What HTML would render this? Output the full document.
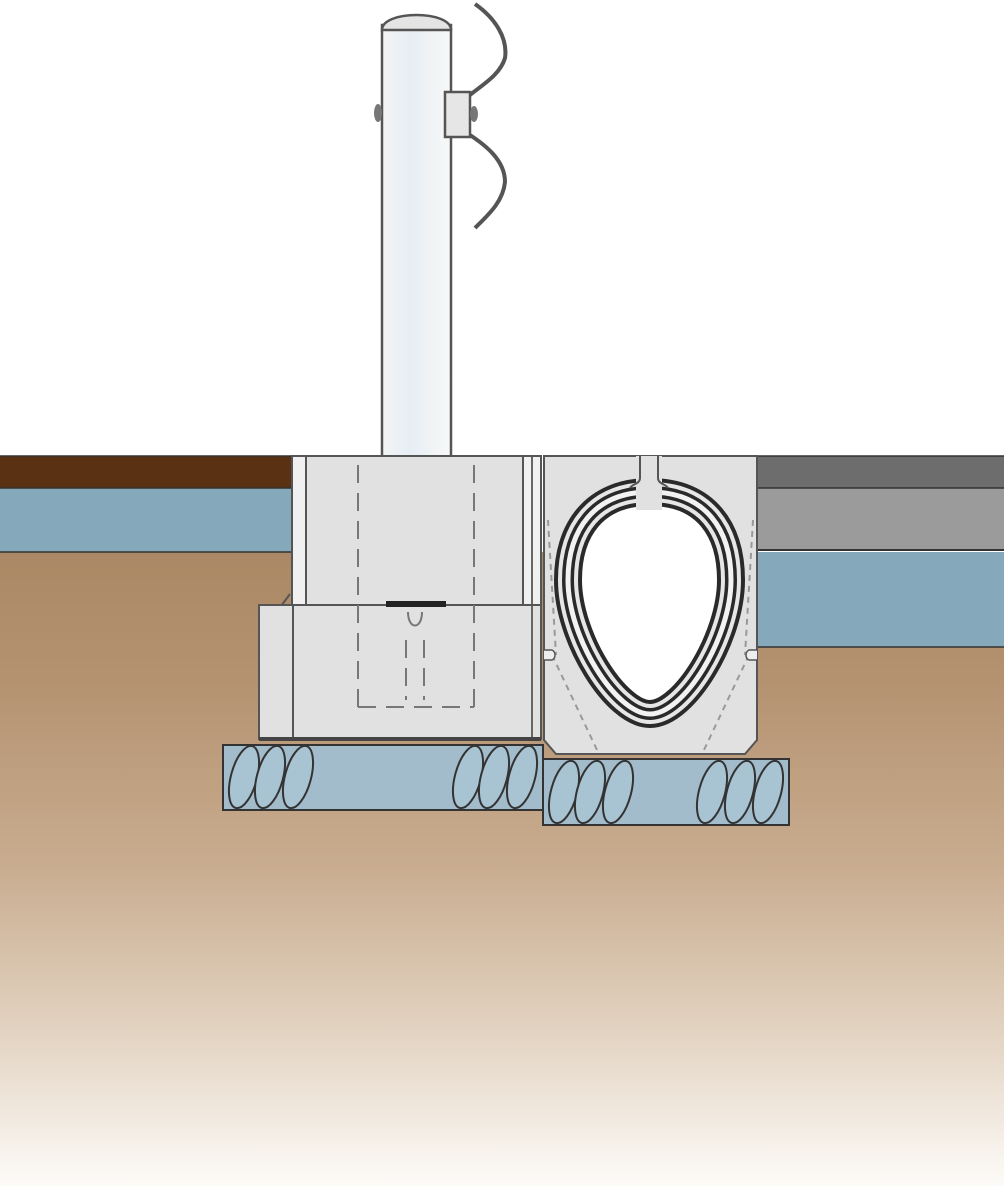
<!DOCTYPE html>
<html><head><meta charset="utf-8"><style>html,body{margin:0;padding:0;background:#fff}svg{display:block}</style></head>
<body>
<svg width="1004" height="1186" viewBox="0 0 1004 1186" xmlns="http://www.w3.org/2000/svg">
<defs>
<linearGradient id="soil" x1="0" y1="0" x2="0" y2="1">
<stop offset="0" stop-color="#ab8865"/>
<stop offset="0.2" stop-color="#b49270"/>
<stop offset="0.5" stop-color="#c9ad90"/>
<stop offset="0.75" stop-color="#e2d2c0"/>
<stop offset="1" stop-color="#fdfbf8"/>
</linearGradient>
<linearGradient id="post" x1="0" y1="0" x2="1" y2="0">
<stop offset="0" stop-color="#f4f4f4"/>
<stop offset="0.4" stop-color="#e6eef4"/>
<stop offset="1" stop-color="#f8f8f8"/>
</linearGradient>
<path id="eg" d="M650,492 C706,492 731,530 731,580 C731,638 684,714 650,714 C616,714 568,638 568,580 C568,530 594,492 650,492 Z"/>
</defs>
<rect width="1004" height="1186" fill="#fff"/>
<rect x="0" y="552" width="1004" height="634" fill="url(#soil)"/>
<rect x="0" y="456" width="292" height="32" fill="#5a3112"/>
<rect x="0" y="488" width="292" height="64" fill="#86a8bb"/>
<line x1="0" y1="488" x2="292" y2="488" stroke="#333" stroke-width="1.5"/>
<line x1="0" y1="552" x2="292" y2="552" stroke="#333" stroke-width="1.5"/>
<line x1="0" y1="456" x2="292" y2="456" stroke="#333" stroke-width="1.5"/>
<rect x="757" y="456" width="247" height="32" fill="#6d6d6d"/>
<rect x="757" y="488" width="247" height="61" fill="#9b9b9b"/>
<rect x="757" y="552" width="247" height="95" fill="#86a8bb"/>
<line x1="757" y1="456" x2="1004" y2="456" stroke="#333" stroke-width="1.5"/>
<line x1="757" y1="488" x2="1004" y2="488" stroke="#333" stroke-width="1.5"/>
<line x1="757" y1="550" x2="1004" y2="550" stroke="#333" stroke-width="2"/>
<line x1="757" y1="647" x2="1004" y2="647" stroke="#333" stroke-width="1.5"/>

<rect x="382" y="25" width="69" height="432" fill="url(#post)" stroke="#555" stroke-width="2.5"/>
<path d="M382,30 C382,10 451,10 451,30 Z" fill="#e4e4e4" stroke="#555" stroke-width="2.5"/>
<ellipse cx="378" cy="113" rx="4" ry="9" fill="#777"/>
<path d="M475,4 C495,18 508,38 505,58 C500,75 482,85 470,95" fill="none" stroke="#555" stroke-width="4"/>
<path d="M470,135 C485,145 505,160 505,182 C503,202 488,215 475,228" fill="none" stroke="#555" stroke-width="4"/>
<rect x="445" y="92" width="25" height="45" fill="#e6e6e6" stroke="#555" stroke-width="2.5"/>
<ellipse cx="474" cy="114" rx="4" ry="8" fill="#777"/>

<rect x="292" y="456" width="249" height="150" fill="#e1e1e1" stroke="#555" stroke-width="2"/>
<rect x="293" y="457" width="12" height="148" fill="#f0f0f0"/>
<rect x="524" y="457" width="16" height="148" fill="#f0f0f0"/>
<line x1="306" y1="457" x2="306" y2="606" stroke="#555" stroke-width="2"/>
<line x1="523" y1="457" x2="523" y2="606" stroke="#555" stroke-width="2"/>
<line x1="532" y1="457" x2="532" y2="606" stroke="#666" stroke-width="2"/>
<path d="M281,606 L290,594" stroke="#555" stroke-width="2"/>
<rect x="259" y="605" width="282" height="134" fill="#e1e1e1" stroke="#555" stroke-width="2"/>
<line x1="293" y1="606" x2="293" y2="739" stroke="#555" stroke-width="2"/>
<line x1="532" y1="606" x2="532" y2="739" stroke="#666" stroke-width="2"/>
<line x1="259" y1="739" x2="541" y2="739" stroke="#444" stroke-width="4"/>
<rect x="386" y="601" width="60" height="6" fill="#222"/>
<g fill="none" stroke="#777" stroke-width="2" stroke-dasharray="18,10">
<line x1="358" y1="465" x2="358" y2="707"/>
<line x1="474" y1="465" x2="474" y2="707"/>
<line x1="358" y1="707" x2="474" y2="707"/>
<line x1="406" y1="640" x2="406" y2="700"/>
<line x1="424" y1="640" x2="424" y2="700"/>
</g>
<path d="M408,612 C408,630 422,630 422,612" fill="none" stroke="#777" stroke-width="2"/>

<path d="M544,456 L757,456 L757,740 L745,754 L556,754 L544,740 Z" fill="#e1e1e1" stroke="#555" stroke-width="2"/>
<g fill="none" stroke="#999" stroke-width="2" stroke-dasharray="6,5">
<path d="M552,655 L598,752"/>
<path d="M749,655 L703,752"/>
<path d="M548,520 L556,655"/>
<path d="M753,520 L745,655"/>
</g>
<path d="M544,650 L552,650 C556,652 556,658 552,660 L544,660" fill="#eee" stroke="#555" stroke-width="1.5"/>
<path d="M757,650 L749,650 C745,652 745,658 749,660 L757,660" fill="#eee" stroke="#555" stroke-width="1.5"/>
<use href="#eg" fill="#fff" stroke="#2a2a2a" stroke-width="28"/>
<use href="#eg" fill="none" stroke="#e6e6e6" stroke-width="20"/>
<use href="#eg" fill="none" stroke="#2a2a2a" stroke-width="12"/>
<use href="#eg" fill="none" stroke="#f2f2f2" stroke-width="5"/>
<rect x="636" y="456" width="26" height="54" fill="#e1e1e1"/>
<path d="M640,456 L640,478 C640,484 632,484 630,488" fill="none" stroke="#555" stroke-width="2"/>
<path d="M658,456 L658,478 C658,484 666,484 668,488" fill="none" stroke="#555" stroke-width="2"/>

<g stroke="#333" stroke-width="2">
<rect x="223" y="745" width="320" height="65" fill="#a3bccb"/>
<rect x="543" y="759" width="246" height="66" fill="#a3bccb"/>
</g>
<g fill="#a8c3d2" stroke="#333" stroke-width="2">
<ellipse cx="244" cy="777" rx="13" ry="32" transform="rotate(15 244 777)"/>
<ellipse cx="270" cy="777" rx="13" ry="32" transform="rotate(15 270 777)"/>
<ellipse cx="298" cy="777" rx="13" ry="32" transform="rotate(15 298 777)"/>
<ellipse cx="468" cy="777" rx="13" ry="32" transform="rotate(15 468 777)"/>
<ellipse cx="494" cy="777" rx="13" ry="32" transform="rotate(15 494 777)"/>
<ellipse cx="522" cy="777" rx="13" ry="32" transform="rotate(15 522 777)"/>
<ellipse cx="564" cy="792" rx="13" ry="32" transform="rotate(15 564 792)"/>
<ellipse cx="590" cy="792" rx="13" ry="32" transform="rotate(15 590 792)"/>
<ellipse cx="618" cy="792" rx="13" ry="32" transform="rotate(15 618 792)"/>
<ellipse cx="712" cy="792" rx="13" ry="32" transform="rotate(15 712 792)"/>
<ellipse cx="740" cy="792" rx="13" ry="32" transform="rotate(15 740 792)"/>
<ellipse cx="768" cy="792" rx="13" ry="32" transform="rotate(15 768 792)"/>
</g>
</svg>
</body></html>
